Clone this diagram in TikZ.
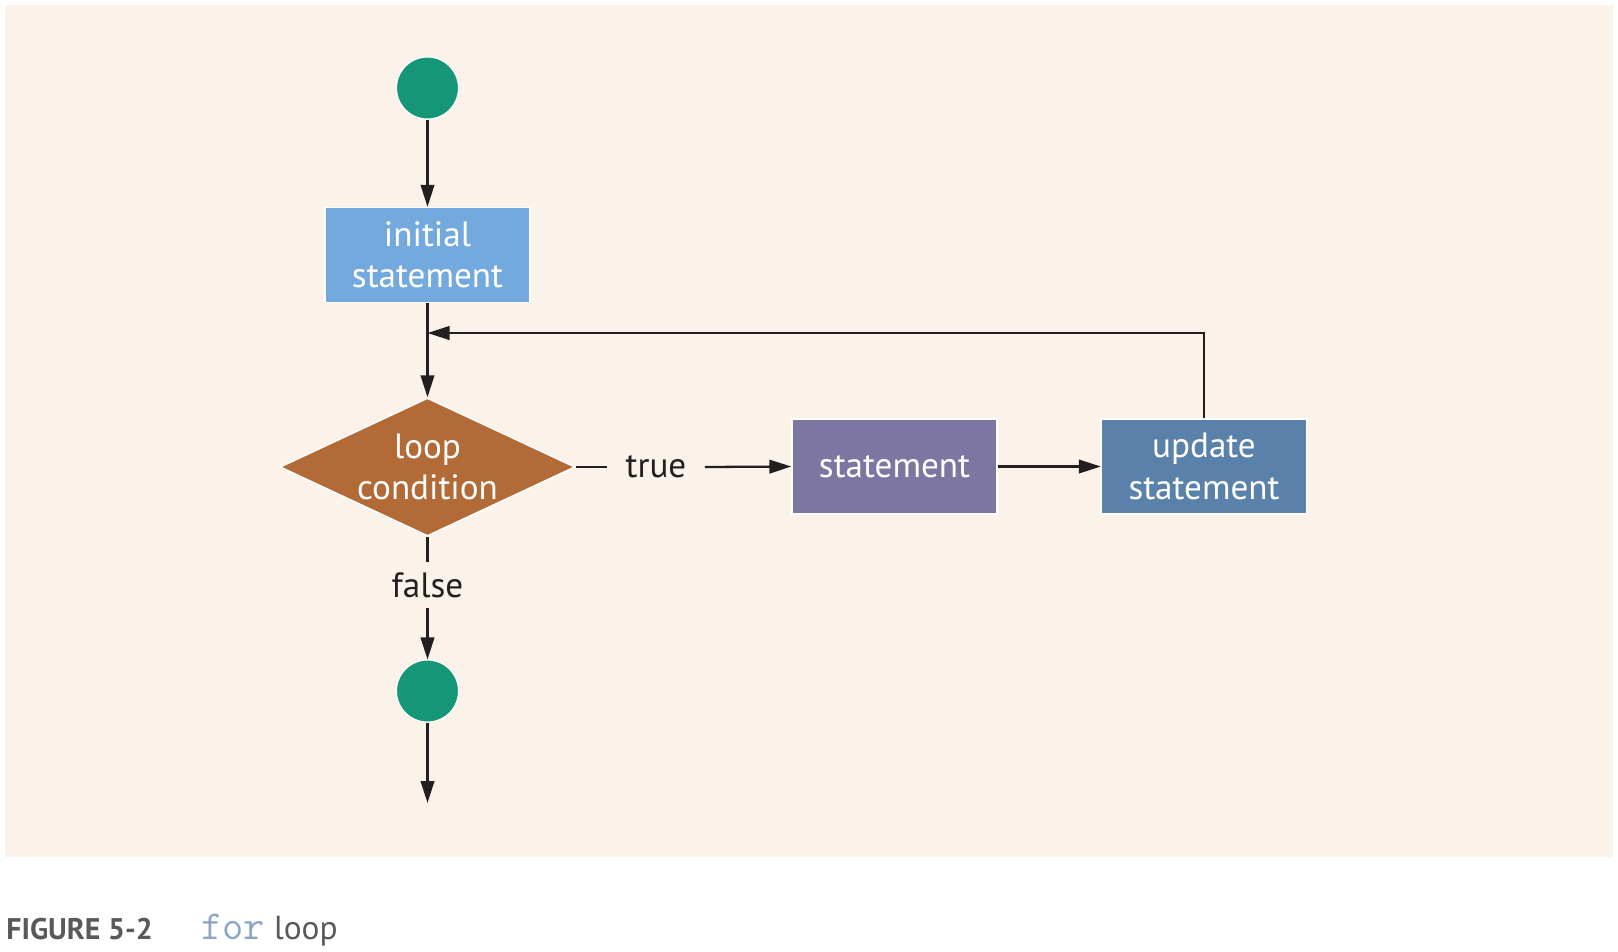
\documentclass[tikz,border=0pt]{standalone}
\usepackage{fontspec}
\setmainfont{PT Sans}
\usetikzlibrary{shapes.geometric,arrows.meta}
\definecolor{paper}{HTML}{FBF3E9}
\definecolor{dotgreen}{HTML}{149677}
\definecolor{initblue}{HTML}{74A9DE}
\definecolor{condbrown}{HTML}{B26A37}
\definecolor{stmtpurple}{HTML}{7D76A0}
\definecolor{updblue}{HTML}{5981AA}
\definecolor{ink}{HTML}{231F20}
\definecolor{capgray}{HTML}{58595B}
\definecolor{codeblue}{HTML}{8EA6C6}

\begin{document}
\begin{tikzpicture}[x=0.02cm, y=-0.02cm, >={Triangle[length=0.44cm,width=0.27cm]},
  every node/.style={font=\fontsize{20}{23.5}\selectfont, align=center},
  flow/.style={line width=1.3pt, draw=ink},
  dot/.style={circle, fill=dotgreen, draw=white, line width=0.6pt, minimum size=1.24cm, inner sep=0},
  stepbox/.style={rectangle, draw=white, line width=0.8pt, text=white, minimum width=4.1cm, minimum height=1.9cm, inner sep=0},
  lbl/.style={text=ink, inner sep=0}]
  \useasboundingbox (0,0) rectangle (1618,951);
  \fill[paper] (5,5) rectangle (1613,857);

  \node[dot] (start) at (427.5,88) {};
  \node[stepbox,fill=initblue] (init) at (427.5,255) {initial\\statement};
  \node[diamond,fill=condbrown,draw=white,line width=0.8pt,minimum width=5.9cm,minimum height=2.76cm,inner sep=0] (cond) at (427.5,467) {};
  \node[text=white] at (cond) {loop\\condition};
  \node[lbl,minimum width=1.94cm] (tru) at (656,467) {true};
  \node[stepbox,fill=stmtpurple] (stmt) at (894.5,466.5) {statement};
  \node[stepbox,fill=updblue] (upd) at (1204,466.5) {update\\statement};
  \node[lbl,minimum height=0.92cm] (fls) at (427.5,585) {false};
  \node[dot] (stop) at (427.5,691) {};
  \coordinate (join) at (427.5,333);
  \coordinate (out) at (427.5,803);

  \draw[flow,->] (start) -- (init);
  \draw[flow,->] (init) -- (cond);
  \draw[flow] (cond.east) -- (tru.west);
  \draw[flow,->] (tru.east) -- (stmt.west);
  \draw[flow,->] (stmt) -- (upd);
  \draw[flow,->] (upd.north) |- (join);
  \draw[flow] (cond.south) -- (fls.north);
  \draw[flow,->] (fls.south) -- (stop);
  \draw[flow,->] (stop) -- (out);

  % caption
  \node[anchor=base west,inner sep=0,font=\fontsize{17}{19}\selectfont\bfseries,text=capgray] (fig) at (6,939) {FIGURE 5-2};
  \node[anchor=base west,inner sep=0,font=\fontsize{19}{21}\selectfont,text=capgray] (cap) at (201,939) {{\ttfamily\fontsize{23.5}{24}\selectfont\color{codeblue}for} loop};
\end{tikzpicture}
\end{document}
